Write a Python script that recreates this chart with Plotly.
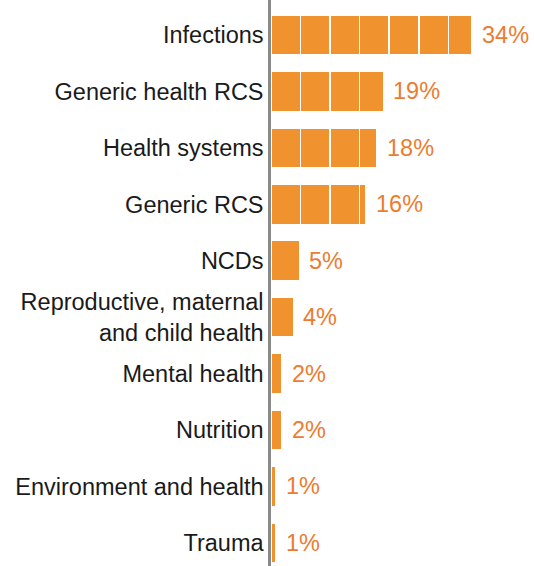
import plotly.graph_objects as go

categories = ["Infections", "Generic health RCS", "Health systems", "Generic RCS", "NCDs",
              "Reproductive, maternal<br>and child health", "Mental health", "Nutrition",
              "Environment and health", "Trauma"]
values = [34.05, 19.0, 17.95, 16.0, 4.8, 3.8, 1.8, 1.8, 0.8, 0.8]
labels = ["34%", "19%", "18%", "16%", "5%", "4%", "2%", "2%", "1%", "1%"]
segment_size = 5

BAR = "#F0932F"
TXT = "#EC7C30"
FONT = "Liberation Sans, Arial, sans-serif"

fig = go.Figure()
n_seg = int(max(values) // segment_size) + 1
for k in range(n_seg):
    xs = []
    for v in values:
        part = min(segment_size, v - segment_size * k)
        xs.append(part if part > 0 else None)
    fig.add_trace(go.Bar(
        y=categories, x=xs, orientation="h",
        marker=dict(color=BAR, line=dict(color="white", width=1.5)),
        hoverinfo="skip", showlegend=False,
    ))

for c, v, t in zip(categories, values, labels):
    fig.add_annotation(x=v, y=c, text=t, showarrow=False, xanchor="left",
                       xshift=8, font=dict(size=23.5, color=TXT, family=FONT))

fig.update_layout(
    barmode="stack", bargap=0.29,
    width=534, height=566,
    margin=dict(l=271, r=0, t=0, b=0),
    plot_bgcolor="white", paper_bgcolor="white",
    font=dict(family=FONT, size=23.5, color="#1a1a1a"),
    xaxis=dict(range=[0, 44.5], visible=False, showgrid=False, zeroline=False),
    yaxis=dict(type="category", range=[9.41, -0.62], showgrid=False, zeroline=False,
               showline=True, linecolor="#8a8a8a", linewidth=2.5,
               ticks="", ticklabelstandoff=0,
               tickfont=dict(size=23.5, color="#1a1a1a", family=FONT)),
)

fig.write_html("out.html")
